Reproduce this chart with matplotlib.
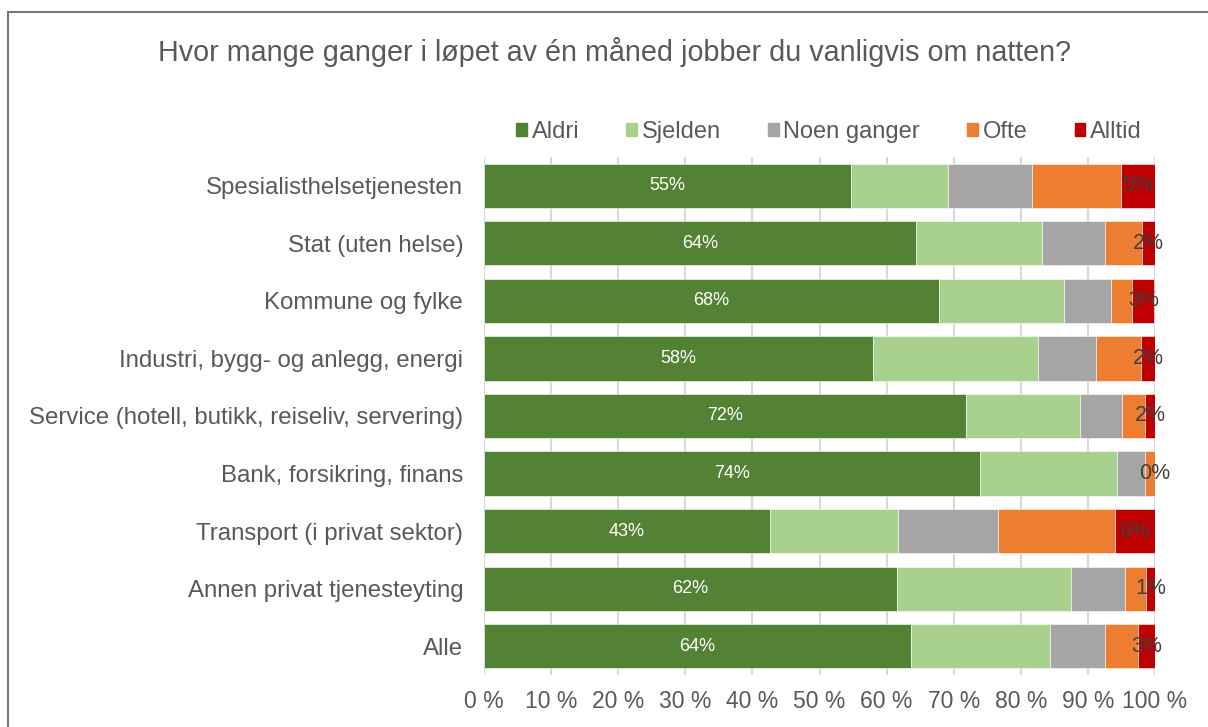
import matplotlib.pyplot as plt
from matplotlib.patches import Patch, Rectangle

plt.rcParams['font.family'] = ['Liberation Sans', 'DejaVu Sans']

categories = ["Spesialisthelsetjenesten", "Stat (uten helse)", "Kommune og fylke",
              "Industri, bygg- og anlegg, energi",
              "Service (hotell, butikk, reiseliv, servering)",
              "Bank, forsikring, finans", "Transport (i privat sektor)",
              "Annen privat tjenesteyting", "Alle"]
series = ["Aldri", "Sjelden", "Noen ganger", "Ofte", "Alltid"]

aldri = [54.7, 64.4, 67.8, 58.0, 71.9, 73.9, 42.6, 61.5, 63.6]
sjelden = [14.5, 18.7, 18.6, 24.5, 16.9, 20.5, 19.1, 26.0, 20.8]
noen = [12.4, 9.5, 7.1, 8.7, 6.3, 4.1, 14.9, 8.1, 8.2]
ofte = [13.3, 5.4, 3.0, 6.7, 3.4, 1.5, 17.5, 3.1, 4.9]
alltid = [5.1, 2.0, 3.4, 2.1, 1.5, 0.0, 5.9, 1.3, 2.6]

colors = ["#548235", "#A9D18E", "#A5A5A5", "#ED7D31", "#C00000"]
txt = "#595959"

fig = plt.figure(figsize=(12.08, 7.27), dpi=100)
W, H = 1208, 727
ax = fig.add_axes([484 / W, 1 - 675 / H, (1155 - 484) / W, (675 - 157) / H])

y = list(range(len(categories)))
left = [0] * len(categories)
data = [aldri, sjelden, noen, ofte, alltid]
for vals, col, name in zip(data, colors, series):
    ax.barh(y, vals, left=left, height=0.77, color=col, label=name,
            edgecolor="white", linewidth=0.4, zorder=3)
    left = [l + v for l, v in zip(left, vals)]

# labels
for i, v in enumerate(aldri):
    ax.text(v / 2, i, f"{round(v)}%", ha="center", va="center",
            color="white", fontsize=13, zorder=4)
for i, v in enumerate(alltid):
    x = 100 - v / 2 if v > 0 else 100
    ax.text(x, i, f"{round(v)}%", ha="center", va="center",
            color="#404040", fontsize=15.5, zorder=4)

ax.set_xlim(0, 100)
ax.set_ylim(len(categories) - 0.5, -0.5)
ax.set_yticks(y)
ax.set_yticklabels(categories, fontsize=17.3, color=txt)
ax.set_xticks(range(0, 101, 10))
ax.set_xticklabels([f"{t} %" for t in range(0, 101, 10)], fontsize=16.5, color=txt)
ax.tick_params(axis="y", length=0, pad=15)
ax.tick_params(axis="x", length=0, pad=11)
ax.grid(axis="x", color="#d9d9d9", linewidth=1.5, zorder=0)
for s in ax.spines.values():
    s.set_visible(False)

fig.text(615 / W, 1 - 52 / H,
         "Hvor mange ganger i løpet av én måned jobber du vanligvis om natten?",
         ha="center", va="center", fontsize=20.7, color=txt)

handles = [Patch(color=c, label=s) for c, s in zip(colors, series)]
fig.legend(handles=handles, loc="center", bbox_to_anchor=(829 / W, 1 - 132 / H),
           ncol=5, frameon=False, fontsize=17, handlelength=0.45, handleheight=0.45,
           handletextpad=0.2, columnspacing=2.0, labelcolor=txt)

fig.patches.append(Rectangle((8 / W, -0.1), 1.2, 1 - 12 / H + 0.1,
                             transform=fig.transFigure, fill=False,
                             edgecolor="#767676", linewidth=1.5))

fig.savefig("out.png", dpi=100)
